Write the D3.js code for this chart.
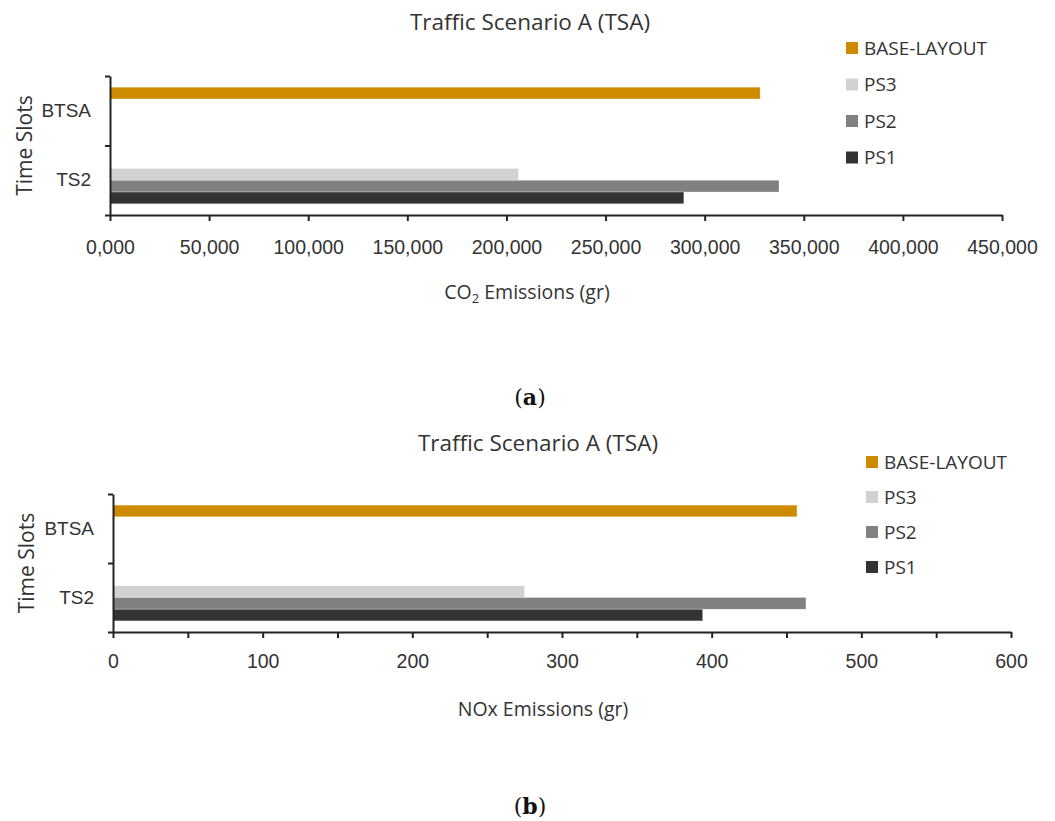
<!DOCTYPE html>
<html>
<head>
<meta charset="utf-8">
<script src="https://cdn.jsdelivr.net/npm/d3@7"></script>
<style>
    body { margin: 0; background: #fff; }
    svg { display: block; font-family: "Open Sans", sans-serif; }
    .axis-text { fill: #333; }
</style>
</head>
<body>
<div id="chart"></div>
<script>
// --- data ---
const categories = ["BTSA", "TS2"];                  // top to bottom
const seriesNames = ["BASE-LAYOUT", "PS3", "PS2", "PS1"];

// CO2 emissions (gr), one value per category
const co2BaseLayout = [328000, null];
const co2PS3 = [null, 206000];
const co2PS2 = [null, 337500];
const co2PS1 = [null, 289500];
const co2Ticks = [0, 50000, 100000, 150000, 200000, 250000, 300000, 350000, 400000, 450000];
const co2TickLabels = ["0,000", "50,000", "100,000", "150,000", "200,000", "250,000", "300,000", "350,000", "400,000", "450,000"];

// NOx emissions (gr)
const noxBaseLayout = [457, null];
const noxPS3 = [null, 275];
const noxPS2 = [null, 463];
const noxPS1 = [null, 394];
const noxTicks = [0, 100, 200, 300, 400, 500, 600];
const noxMinorTicks = [50, 150, 250, 350, 450, 550];
const noxTickLabels = ["0", "100", "200", "300", "400", "500", "600"];

const chartTitle = "Traffic Scenario A (TSA)";
const yTitle = "Time Slots";

const color = d3.scaleOrdinal()
    .domain(seriesNames)
    .range(["#cc8b00", "#d2d2d2", "#808080", "#333333"]);

const svg = d3.select("#chart").append("svg")
    .attr("width", 1055)
    .attr("height", 821);

function drawPanel(p) {
    const g = svg.append("g");
    const valuesBySeries = [p.base, p.ps3, p.ps2, p.ps1];

    const x = d3.scaleLinear()
        .domain([0, p.ticks[p.ticks.length - 1]])
        .range([p.left, p.right]);

    const y = d3.scaleBand()
        .domain(categories)
        .range([p.top, p.bottom]);

    const ySub = d3.scaleBand()
        .domain(seriesNames)
        .range([0, y.bandwidth()])
        .paddingOuter(0.95);

    // bars
    seriesNames.forEach((name, si) => {
        const vals = valuesBySeries[si];
        g.append("g")
            .selectAll("rect")
            .data(categories.map((c, ci) => ({ cat: c, value: vals[ci] })).filter(d => d.value != null))
            .join("rect")
            .attr("x", x(0))
            .attr("y", d => y(d.cat) + ySub(name))
            .attr("width", d => x(d.value) - x(0))
            .attr("height", ySub.bandwidth())
            .attr("fill", color(name))
            .attr("stroke", "#ffffff")
            .attr("stroke-opacity", 0.5)
            .attr("stroke-width", 0.6);
    });

    // x axis
    const xAxis = g.append("g")
        .attr("transform", `translate(0,${p.bottom})`)
        .call(d3.axisBottom(x)
            .tickValues(p.ticks)
            .tickFormat((d, i) => p.tickLabels[i])
            .tickSize(6)
            .tickSizeOuter(0)
            .tickPadding(p.tickPad));
    xAxis.selectAll("text").attr("class", "axis-text").style("font-size", "19.5px");

    if (p.minorTicks) {
        g.append("g")
            .attr("transform", `translate(0,${p.bottom})`)
            .call(d3.axisBottom(x).tickValues(p.minorTicks).tickFormat("").tickSize(6))
            .call(a => a.select(".domain").remove());
    }

    // y axis: boundary ticks + category labels
    const yEdges = d3.scaleLinear().domain([0, categories.length]).range([p.top, p.bottom]);
    g.append("g")
        .attr("transform", `translate(${p.left},0)`)
        .call(d3.axisLeft(yEdges).tickValues(d3.range(categories.length + 1)).tickFormat("").tickSize(5).tickSizeOuter(0));

    const yLabels = g.append("g")
        .attr("transform", `translate(${p.left},0)`)
        .call(d3.axisLeft(y).tickSize(0).tickPadding(19));
    yLabels.select(".domain").remove();
    yLabels.selectAll("text").attr("class", "axis-text").style("font-size", "19px");

    g.selectAll(".domain, .tick line")
        .attr("stroke", "#222")
        .attr("stroke-width", 2);

    // titles
    g.append("text")
        .attr("class", "axis-text")
        .attr("x", p.titleX)
        .attr("y", p.titleY)
        .attr("text-anchor", "middle")
        .attr("dy", "0.35em")
        .style("font-size", "22.5px")
        .text(chartTitle);

    g.append("text")
        .attr("class", "axis-text")
        .attr("transform", `translate(${p.yTitleX},${(p.top + p.bottom) / 2}) rotate(-90)`)
        .attr("text-anchor", "middle")
        .attr("dy", "0.35em")
        .style("font-size", "21px")
        .text(yTitle);

    const xt = g.append("text")
        .attr("class", "axis-text")
        .attr("x", p.xTitleX)
        .attr("y", p.xTitleY)
        .attr("text-anchor", "middle")
        .attr("dy", "0.35em")
        .style("font-size", "19.5px");
    p.xTitle.forEach(part => {
        const t = xt.append("tspan").text(part.text);
        if (part.sub) t.attr("font-size", "13px").attr("dy", "4");
        else if (xt.selectAll("tspan").size() > 1) t.attr("dy", "-4");
    });

    // legend
    const legend = g.append("g")
        .attr("transform", `translate(${p.legendX},${p.legendY})`);
    const item = legend.selectAll("g")
        .data(seriesNames)
        .join("g")
        .attr("transform", (d, i) => `translate(0,${i * p.legendStep})`);
    item.append("rect")
        .attr("x", 0)
        .attr("y", -6)
        .attr("width", 12)
        .attr("height", 12)
        .attr("fill", d => color(d));
    item.append("text")
        .attr("class", "axis-text")
        .attr("x", 18)
        .attr("dy", "0.35em")
        .style("font-size", "19px")
        .text(d => d);

    // panel caption
    const cap = g.append("text")
        .attr("x", 530)
        .attr("y", p.captionY)
        .attr("text-anchor", "middle")
        .attr("dy", "0.35em")
        .style("font-family", "'DejaVu Serif', serif")
        .style("font-size", "22px")
        .attr("fill", "#111");
    cap.append("tspan").text("(");
    cap.append("tspan").attr("font-weight", "bold").text(p.caption);
    cap.append("tspan").text(")");
}

drawPanel({
    base: co2BaseLayout, ps3: co2PS3, ps2: co2PS2, ps1: co2PS1,
    ticks: co2Ticks, tickLabels: co2TickLabels, minorTicks: null,
    left: 110, right: 1002, top: 76, bottom: 215, tickPad: 19,
    titleX: 530, titleY: 22,
    yTitleX: 25,
    xTitle: [{ text: "CO" }, { text: "2", sub: true }, { text: " Emissions (gr)" }],
    xTitleX: 527, xTitleY: 292,
    legendX: 846, legendY: 48, legendStep: 36.5,
    caption: "a", captionY: 397
});

drawPanel({
    base: noxBaseLayout, ps3: noxPS3, ps2: noxPS2, ps1: noxPS1,
    ticks: noxTicks, tickLabels: noxTickLabels, minorTicks: noxMinorTicks,
    left: 113, right: 1011, top: 494, bottom: 632, tickPad: 16,
    titleX: 538, titleY: 443,
    yTitleX: 27,
    xTitle: [{ text: "NOx Emissions (gr)" }],
    xTitleX: 543, xTitleY: 709,
    legendX: 866, legendY: 462, legendStep: 35,
    caption: "b", captionY: 806
});
</script>
</body>
</html>
